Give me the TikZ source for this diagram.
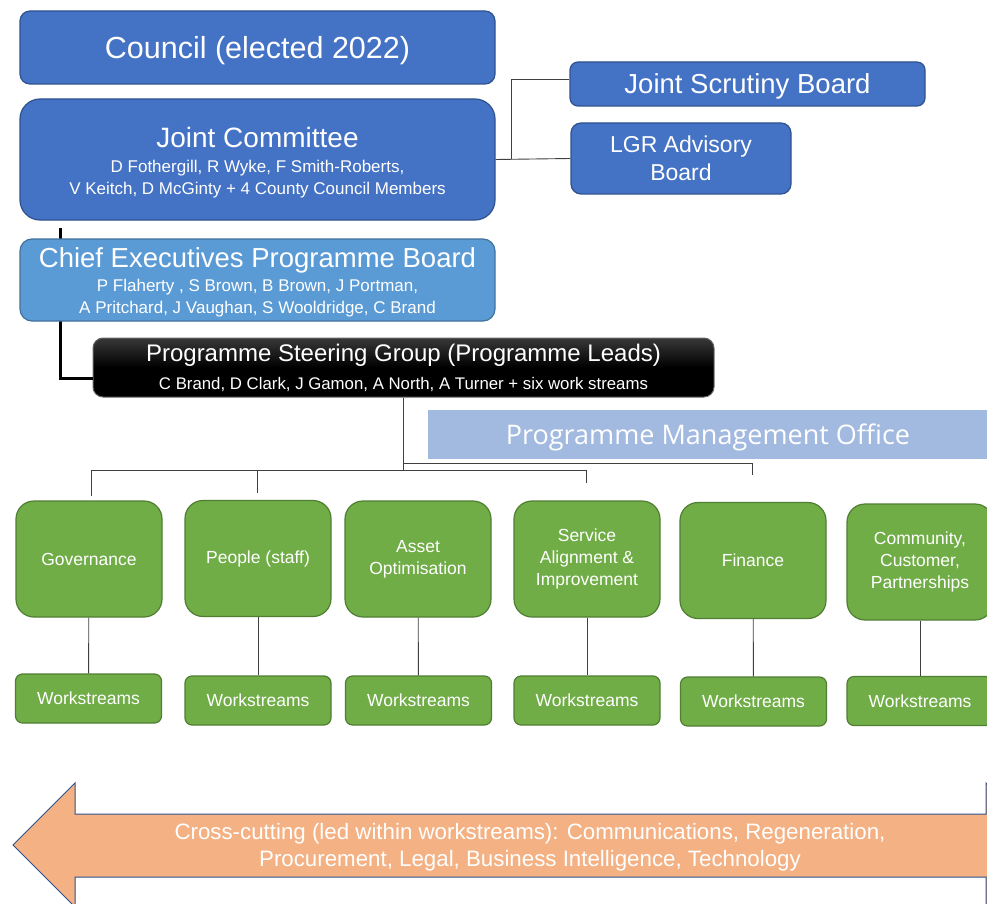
\documentclass[tikz,border=0pt]{standalone}
\usepackage{fontspec}
\setmainfont{Liberation Sans}
\newfontfamily\PMOFont{Open Sans}
\usepackage{xcolor}
\definecolor{ColBlue}{RGB}{68,114,196}
\definecolor{ColBlueD}{RGB}{47,82,143}
\definecolor{ColSky}{RGB}{91,155,213}
\definecolor{ColSkyD}{RGB}{65,113,156}
\definecolor{ColGreen}{RGB}{112,173,71}
\definecolor{ColGreenD}{RGB}{80,126,50}
\definecolor{ColPMO}{RGB}{162,185,224}
\definecolor{ColOrange}{RGB}{244,177,131}
\usepackage{tikz}
\newcommand{\FSize}[2]{\fontsize{#1}{#2}\selectfont}
\tikzstyle{BoxBlue}=[draw=ColBlueD,fill=ColBlue,line width=1.2pt,text=white,
align=center,inner sep=0pt]
\tikzstyle{BoxSky}=[draw=ColSkyD,fill=ColSky,line width=1.2pt,text=white,
align=center,inner sep=0pt]
\tikzstyle{BoxGreen}=[draw=ColGreenD,fill=ColGreen,line width=1.2pt,
rounded corners=18pt,text=white,align=center,inner sep=0pt,
minimum width=146pt,minimum height=116pt,font=\FSize{17.5}{22}]
\tikzstyle{BoxWork}=[draw=ColGreenD,fill=ColGreen,line width=1.2pt,
rounded corners=7pt,text=white,inner sep=0pt,
minimum width=146pt,minimum height=49pt,font=\FSize{17.5}{22}]
\tikzstyle{Link}=[draw=black!75,line width=0.9pt]
\tikzstyle{LinkThick}=[draw=black,line width=3pt]

\begin{document}
\begin{tikzpicture}[x=1pt,y=-1pt]
        \clip(0,0)rectangle(987,904);
        \fill[white](0,0)rectangle(987,904);
        \node[BoxBlue,rounded corners=10pt,minimum width=475pt,
            minimum height=73pt,text depth=0pt,font=\FSize{30.5}{36}](Council)
            at(257.5,47.5){Council (elected 2022)};
        \node[BoxBlue,rounded corners=20pt,minimum width=475pt,
            minimum height=121pt,font=\FSize{17}{22}](JC)at(257.5,159.5)
            {\FSize{28}{30}\rule{0pt}{27pt}Joint Committee\\[3pt]
            \FSize{17}{22}D Fothergill, R Wyke, F Smith-Roberts,\\
            \FSize{17}{22}V Keitch, D McGinty + 4 County Council Members};
        \node[BoxBlue,rounded corners=8pt,minimum width=355pt,
            minimum height=44pt,text depth=0pt,font=\FSize{27.5}{30}](JSB)
            at(747.5,84){Joint Scrutiny Board};
        \node[BoxBlue,rounded corners=10pt,minimum width=220pt,
            minimum height=71pt,font=\FSize{23}{28}](LGR)at(681,158.5)
            {LGR Advisory\\Board};
        \node[draw=black!60,line width=1pt,rounded corners=10pt,
            top color=black!78,bottom color=black,middle color=black,
            text=white,align=center,inner sep=0pt,minimum width=621pt,
            minimum height=59pt,font=\FSize{16.8}{22}](PSG)at(403.5,367.5)
            {\FSize{24}{26}Programme Steering Group (Programme Leads)\\[6pt]
            \FSize{16.8}{22}C Brand, D Clark, J Gamon, A North, A Turner
            + six work streams};
        \coordinate(K0)at(60,228);
        \coordinate(K1)at(60,378);
        \draw[LinkThick](K0)--(K1)--(K1-|PSG.west);
        \node[BoxSky,rounded corners=12pt,minimum width=475pt,
            minimum height=82pt,font=\FSize{17}{22}](CEPB)at(257.5,280)
            {\FSize{27.5}{30}\rule{0pt}{24pt}Chief Executives Programme Board\\[2pt]
            \FSize{17}{22}P Flaherty , S Brown, B Brown, J Portman,\\
            \FSize{17}{22}A Pritchard, J Vaughan, S Wooldridge, C Brand};
        \coordinate(S0)at(511,159.5);
        \coordinate(S1)at(511,79);
        \draw[Link](JC.east)--(LGR.west);
        \draw[Link](S0)--(S1)--(S1-|JSB.west);
        \node[fill=ColPMO,text=white,inner sep=0pt,minimum width=560pt,
            minimum height=49pt,text depth=0pt,font=\PMOFont\FSize{27}{30}](PMO)
            at(708,434.5){Programme Management Office};
        \node[BoxGreen](Gov)at(89,559){Governance};
        \node[BoxGreen](Ppl)at(258,558.5){People (staff)};
        \node[BoxGreen](Ast)at(418,559){Asset\\Optimisation};
        \node[BoxGreen](Srv)at(587,559){Service\\Alignment \&\\Improvement};
        \node[BoxGreen](Fin)at(753,560.5){Finance};
        \node[BoxGreen](Com)at(920,562){Community,\\Customer,\\Partnerships};
        \node[BoxWork](W1)at(88.5,698.5){Workstreams};
        \node[BoxWork](W2)at(258,700.5){Workstreams};
        \node[BoxWork](W3)at(418.5,700.5){Workstreams};
        \node[BoxWork](W4)at(587,700.5){Workstreams};
        \node[BoxWork](W5)at(753.5,701.5){Workstreams};
        \node[BoxWork](W6)at(920,701){Workstreams};
        \draw[Link](Gov)--(W1);
        \draw[Link](Ppl)--(W2);
        \draw[Link](Ast)--(W3);
        \draw[Link](Srv)--(W4);
        \draw[Link](Fin)--(W5);
        \draw[Link](Com)--(W6);
        \coordinate(J0)at(403.5,470);
        \coordinate(J1)at(403.5,463);
        \coordinate(D1)at(91,496);
        \coordinate(D2)at(257,493);
        \coordinate(D4)at(586,483);
        \coordinate(D5)at(752,475);
        \draw[Link](PSG.south)--(J0);
        \draw[Link](D1)--(D1|-J0)--(D4|-J0)--(D4);
        \draw[Link](D2)--(D2|-J0);
        \draw[Link](J1)-|(D5);
        \draw[fill=ColOrange,draw=ColBlueD,line width=1pt]
            (13,845)--(75,783)--(75,814)--(986,814)--(986,783)
            --(1048,845)--(986,907)--(986,877)--(75,877)--(75,907)--cycle;
        \node[text=white,align=center,inner sep=0pt,font=\FSize{22.3}{27}](CC)
            at(530,847.5){Cross-cutting (led within workstreams): Communications,
            Regeneration,\\Procurement, Legal, Business Intelligence, Technology};
\end{tikzpicture}
\end{document}
